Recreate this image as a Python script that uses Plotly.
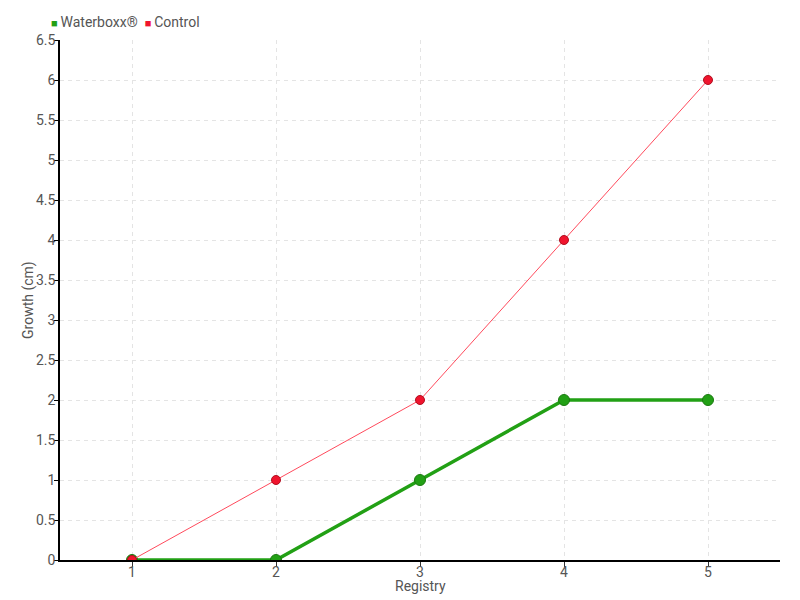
import plotly.graph_objects as go

# data
registry = [1, 2, 3, 4, 5]
waterboxx = [0, 0, 1, 2, 2]
control = [0, 1, 2, 4, 6]

GREEN = "#22a015"
RED = "#f0142d"
FONT = "Roboto, sans-serif"

fig = go.Figure()

fig.add_trace(go.Scatter(
    x=registry, y=waterboxx, mode="lines+markers", name="Waterboxx®",
    line=dict(color=GREEN, width=3.5),
    marker=dict(size=11, color=GREEN, line=dict(color="#1a7a10", width=1)),
    showlegend=False,
))
fig.add_trace(go.Scatter(
    x=registry, y=control, mode="lines+markers", name="Control",
    line=dict(color="#ff4a5c", width=1),
    marker=dict(size=9, color=RED, line=dict(color="#b01020", width=1)),
    showlegend=False,
))

# legend drawn as a text line with coloured square glyphs
legend_text = (
    f"<span style='color:{GREEN};font-size:11px'>■</span>\u2009Waterboxx®  "
    f"<span style='color:{RED};font-size:11px'>■</span>\u2009Control"
)
fig.add_annotation(
    text=legend_text, xref="paper", yref="paper", x=-0.015, y=1.0, yshift=18,
    xanchor="left", yanchor="middle", showarrow=False,
    font=dict(size=14, color="#555555"),
)

# axis titles as annotations so they sit where the reference has them
fig.add_annotation(
    text="Registry", xref="paper", yref="paper", x=0.5, y=0, yshift=-26,
    xanchor="center", yanchor="middle", showarrow=False,
    font=dict(size=14, color="#555555"),
)
fig.add_annotation(
    text="Growth (cm)", xref="paper", yref="paper", x=0, y=0.5, xshift=-32,
    xanchor="center", yanchor="middle", textangle=-90, showarrow=False,
    font=dict(size=14, color="#555555"),
)

grid = dict(showgrid=True, gridcolor="#e4e4e4", griddash="4px,4px", gridwidth=1)

# page body has an 8px offset, margins compensate for it
fig.update_layout(
    width=800, height=600,
    margin=dict(l=52, r=28, t=32, b=48),
    plot_bgcolor="white", paper_bgcolor="white",
    font=dict(family=FONT, size=14, color="#555555"),
    showlegend=False,
    xaxis=dict(
        range=[0.5, 5.5], tickvals=registry, ticks="outside", ticklen=5,
        tickcolor="#333333", showline=True, linecolor="black", linewidth=1.5,
        zeroline=False, automargin=False, ticklabelstandoff=-7,
        **grid,
    ),
    yaxis=dict(
        range=[0, 6.5], dtick=0.5, ticks="outside", ticklen=4,
        tickcolor="black", showline=True, linecolor="black", linewidth=1.5,
        zeroline=False, automargin=False, ticklabelstandoff=-4,
        **grid,
    ),
)

fig.write_html("out.html")
